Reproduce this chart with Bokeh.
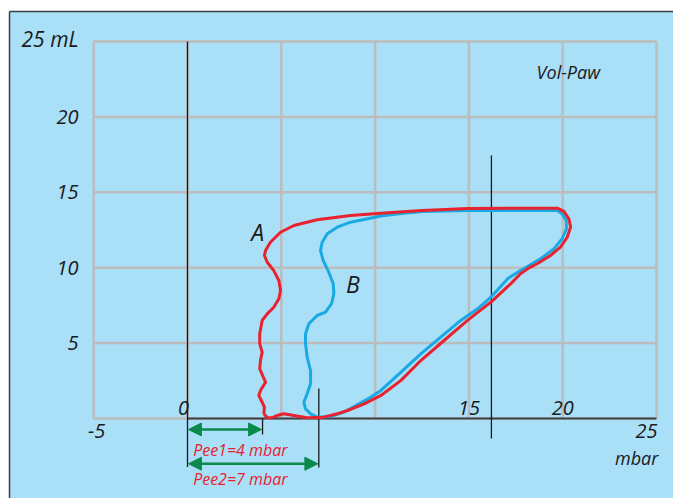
from bokeh.plotting import figure
from bokeh.models import Range1d, Arrow, NormalHead
from bokeh.core.properties import value
from bokeh.embed import file_html
from bokeh.resources import INLINE

# Pressure-volume loops (Vol-Paw), pressure in mbar, volume in mL
loop_a_paw = [4.07, 4.10, 3.98, 3.80, 3.89, 4.16, 4.04, 3.85, 3.89, 3.98, 3.85, 3.85,
              3.98, 4.25, 4.60, 4.87, 4.96, 4.87, 4.60, 4.25, 4.10, 4.16, 4.42, 4.96,
              5.67, 6.91, 8.69, 10.31, 12.50, 14.94, 17.75, 19.71, 20.06, 20.33, 20.42,
              20.24, 19.88, 19.35, 18.64, 18.15, 17.75, 17.25, 16.19, 14.94, 13.69, 12.45,
              11.38, 10.31, 9.42, 8.69, 7.98, 7.27, 6.38, 5.67, 5.13, 4.78, 4.51, 4.25, 4.07]
loop_a_vol = [0.31, 0.75, 1.08, 1.53, 1.86, 2.41, 2.74, 3.30, 3.85, 4.40, 4.95, 5.62,
              6.50, 6.94, 7.38, 7.94, 8.49, 9.15, 9.81, 10.36, 10.81, 11.14, 11.69, 12.35,
              12.80, 13.18, 13.46, 13.61, 13.80, 13.92, 13.95, 13.95, 13.73, 13.24, 12.69,
              12.02, 11.36, 10.81, 10.26, 9.95, 9.60, 8.96, 7.73, 6.52, 5.19, 3.86,
              2.53, 1.53, 0.97, 0.60, 0.31, 0.09, 0.05, 0.20, 0.31, 0.20, 0.05, 0.05, 0.31]

loop_b_paw = [6.56, 6.56, 6.38, 6.29, 6.29, 6.47, 6.91, 7.36, 7.68, 7.80, 7.77, 7.53,
              7.23, 7.09, 7.18, 7.45, 7.98, 8.69, 10.31, 11.38, 12.50, 14.94, 17.75, 19.71,
              19.97, 20.19, 20.20, 19.97, 19.53, 18.82, 17.75, 17.08, 16.19, 15.48, 14.58,
              13.51, 12.45, 11.38, 10.31, 9.78, 8.69, 8.33, 7.62, 6.91, 6.56, 6.29, 6.20,
              6.38, 6.56]
loop_b_vol = [2.30, 3.18, 4.06, 4.95, 5.62, 6.28, 6.83, 7.05, 7.61, 8.27, 8.93, 9.70,
              10.48, 11.14, 11.69, 12.25, 12.69, 13.02, 13.43, 13.60, 13.72, 13.80, 13.79, 13.79,
              13.57, 13.13, 12.58, 11.92, 11.25, 10.59, 9.81, 9.29, 8.07, 7.29, 6.52,
              5.41, 4.30, 3.08, 1.86, 1.42, 0.66, 0.42, 0.13, 0.09, 0.31, 0.64, 1.08,
              1.64, 2.30]

# PEEP levels
peep_values = [4, 7]
peep_labels = ["Pee1=4 mbar", "Pee2=7 mbar"]

# Axis ticks
x_grid = [-5, 0, 5, 10, 15, 20, 25]
y_grid = [0, 5, 10, 15, 20, 25]
y_tick_values = [20, 15, 10, 5]
y_tick_labels = ["20", "15", "10", "5"]
x_ticks_above = [0, 15, 20]
x_labels_above = ["0", "15", "20"]
x_ticks_below = [-5, 25]
x_labels_below = ["-5", "25"]

# Marker line at the peak-pressure region
marker_paw = 16.2

BG = "#aadff8"
GRID = "#bcbcbc"
INK = "#1a1a1a"
RED = "#e8222e"
BLUE = "#19a9e3"
GREEN = "#0b8a4c"
FONT = value("Open Sans")

p = figure(width=673, height=498,
           x_range=Range1d(-9.968, 25.906), y_range=Range1d(-5.305, 27.719),
           output_backend="svg", toolbar_location=None, min_border=0,
           x_axis_location=None, y_axis_location=None)
p.grid.visible = False
p.outline_line_color = None
p.background_fill_color = "white"
p.border_fill_color = "white"

# panel background with its dark edge on top and left
p.quad(left=-9.488, right=27, bottom=-6, top=26.99, fill_color=BG, line_color=None)
p.segment(x0=[-9.488, -9.488], y0=[26.99, 26.99], x1=[27, -9.488], y1=[26.99, -6],
          line_color="#3a3f44", line_width=1.5)

# grid
p.segment(x0=x_grid, y0=[0] * len(x_grid), x1=x_grid, y1=[25] * len(x_grid),
          line_color=GRID, line_width=2.5)
p.segment(x0=[-5] * len(y_grid), y0=y_grid, x1=[25] * len(y_grid), y1=y_grid,
          line_color=GRID, line_width=2.5)

# pressure axis
p.segment(x0=[0], y0=[0], x1=[25], y1=[0], line_color="#3c4147", line_width=2)

# vertical reference lines
p.segment(x0=[0, marker_paw, peep_values[0], peep_values[1]],
          y0=[25, 17.44, 0, 1.99],
          x1=[0, marker_paw, peep_values[0], peep_values[1]],
          y1=[-3.22, -1.33, -1.06, -3.25],
          line_color="#1a1a1a", line_width=1.3)

# loops
p.line(loop_b_paw, loop_b_vol, line_color=BLUE, line_width=3, line_join="round")
p.line(loop_a_paw, loop_a_vol, line_color=RED, line_width=3, line_join="round")

# PEEP arrows
arrow_y = [-0.73, -3.00]
for pv, ay in zip(peep_values, arrow_y):
    p.add_layout(Arrow(
        start=NormalHead(size=13, fill_color=GREEN, line_color=GREEN),
        end=NormalHead(size=13, fill_color=GREEN, line_color=GREEN),
        x_start=0.05, y_start=ay, x_end=pv - 0.05, y_end=ay,
        line_color=GREEN, line_width=2.5))

p.text(x=[0.3, 0.3], y=[-2.06, -4.0], text=peep_labels, text_color=RED,
       text_font=FONT, text_font_style="italic", text_font_size="16px",
       text_align="left", text_baseline="middle")

# tick labels
p.text(x=[-5.81] * len(y_tick_values), y=y_tick_values, text=y_tick_labels,
       text_color=INK, text_font=FONT, text_font_style="italic", text_font_size="20px",
       text_align="right", text_baseline="middle")
p.text(x=[-5.81], y=[25.15], text=["25 mL"], text_color=INK, text_font=FONT,
       text_font_style="italic", text_font_size="21px", text_align="right",
       text_baseline="middle")
p.text(x=x_ticks_above, y=[0.2] * len(x_ticks_above), text=x_labels_above,
       x_offset=[-4, 0, 0], text_color=INK, text_font=FONT, text_font_style="italic",
       text_font_size="20px", text_align="center", text_baseline="bottom")
p.text(x=x_ticks_below, y=[-0.86] * len(x_ticks_below), text=x_labels_below,
       x_offset=[3, -10], text_color=INK, text_font=FONT, text_font_style="italic",
       text_font_size="20px", text_align="center", text_baseline="middle")
p.text(x=[25.1], y=[-2.65], text=["mbar"], text_color=INK, text_font=FONT,
       text_font_style="italic", text_font_size="18px", text_align="right",
       text_baseline="middle")

# annotations
p.text(x=[20.3], y=[23.0], text=["Vol-Paw"], text_color=INK, text_font=FONT,
       text_font_style="italic", text_font_size="18px", text_align="center",
       text_baseline="middle")
p.text(x=[3.74, 8.81], y=[12.37, 8.91], text=["A", "B"], text_color=INK, text_font=FONT,
       text_font_style="italic", text_font_size="23px", text_align="center",
       text_baseline="middle")

open("out.html", "w").write(file_html(p, INLINE))
